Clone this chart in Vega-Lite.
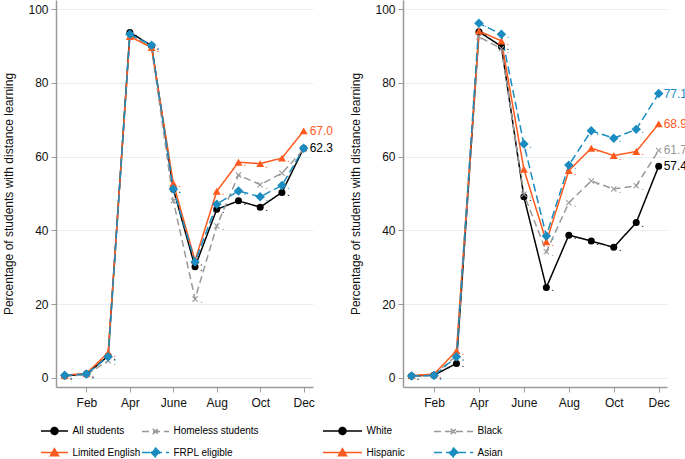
{
  "$schema": "https://vega.github.io/schema/vega-lite/v6.json",
  "padding": {"left": 2, "top": 0, "right": 0, "bottom": 0},
  "autosize": {"type": "pad"},
  "bounds": "flush",
  "spacing": 90,
  "config": {
    "font": "Liberation Sans",
    "view": {"stroke": null},
    "axis": {
      "domainColor": "#9a9a9a", "domainWidth": 1.5, "tickColor": "#9a9a9a", "tickWidth": 1, "tickSize": 5,
      "labelColor": "#111111", "labelFontSize": 12, "titleFontSize": 12, "titleFontWeight": "normal", "titleColor": "#111111",
      "gridColor": "#e6eff1", "gridWidth": 1, "labelFlush": false
    }
  },
  "datasets": {
    "left": [
      {"group": "All students", "month": 1, "pct": 0.5}, {"group": "All students", "month": 2, "pct": 1.0}, {"group": "All students", "month": 3, "pct": 5.9}, {"group": "All students", "month": 4, "pct": 93.7}, {"group": "All students", "month": 5, "pct": 90.1}, {"group": "All students", "month": 6, "pct": 51.2}, {"group": "All students", "month": 7, "pct": 30.1}, {"group": "All students", "month": 8, "pct": 45.7}, {"group": "All students", "month": 9, "pct": 48.0}, {"group": "All students", "month": 10, "pct": 46.3}, {"group": "All students", "month": 11, "pct": 50.3}, {"group": "All students", "month": 12, "pct": 62.3},
      {"group": "Homeless students", "month": 1, "pct": 0.5}, {"group": "Homeless students", "month": 2, "pct": 0.8}, {"group": "Homeless students", "month": 3, "pct": 4.6}, {"group": "Homeless students", "month": 4, "pct": 93.0}, {"group": "Homeless students", "month": 5, "pct": 89.5}, {"group": "Homeless students", "month": 6, "pct": 48.0}, {"group": "Homeless students", "month": 7, "pct": 21.4}, {"group": "Homeless students", "month": 8, "pct": 41.2}, {"group": "Homeless students", "month": 9, "pct": 55.0}, {"group": "Homeless students", "month": 10, "pct": 52.4}, {"group": "Homeless students", "month": 11, "pct": 55.5}, {"group": "Homeless students", "month": 12, "pct": 62.0},
      {"group": "Limited English", "month": 1, "pct": 0.7}, {"group": "Limited English", "month": 2, "pct": 1.2}, {"group": "Limited English", "month": 3, "pct": 6.8}, {"group": "Limited English", "month": 4, "pct": 92.6}, {"group": "Limited English", "month": 5, "pct": 89.6}, {"group": "Limited English", "month": 6, "pct": 52.8}, {"group": "Limited English", "month": 7, "pct": 31.8}, {"group": "Limited English", "month": 8, "pct": 50.6}, {"group": "Limited English", "month": 9, "pct": 58.5}, {"group": "Limited English", "month": 10, "pct": 58.1}, {"group": "Limited English", "month": 11, "pct": 59.6}, {"group": "Limited English", "month": 12, "pct": 67.0},
      {"group": "FRPL eligible", "month": 1, "pct": 0.7}, {"group": "FRPL eligible", "month": 2, "pct": 1.0}, {"group": "FRPL eligible", "month": 3, "pct": 5.7}, {"group": "FRPL eligible", "month": 4, "pct": 93.2}, {"group": "FRPL eligible", "month": 5, "pct": 90.2}, {"group": "FRPL eligible", "month": 6, "pct": 51.2}, {"group": "FRPL eligible", "month": 7, "pct": 31.4}, {"group": "FRPL eligible", "month": 8, "pct": 47.1}, {"group": "FRPL eligible", "month": 9, "pct": 50.7}, {"group": "FRPL eligible", "month": 10, "pct": 49.1}, {"group": "FRPL eligible", "month": 11, "pct": 52.2}, {"group": "FRPL eligible", "month": 12, "pct": 62.3}
    ],
    "right": [
      {"group": "White", "month": 1, "pct": 0.5}, {"group": "White", "month": 2, "pct": 0.7}, {"group": "White", "month": 3, "pct": 3.9}, {"group": "White", "month": 4, "pct": 93.9}, {"group": "White", "month": 5, "pct": 89.9}, {"group": "White", "month": 6, "pct": 49.1}, {"group": "White", "month": 7, "pct": 24.5}, {"group": "White", "month": 8, "pct": 38.7}, {"group": "White", "month": 9, "pct": 37.1}, {"group": "White", "month": 10, "pct": 35.4}, {"group": "White", "month": 11, "pct": 42.1}, {"group": "White", "month": 12, "pct": 57.4},
      {"group": "Black", "month": 1, "pct": 0.5}, {"group": "Black", "month": 2, "pct": 0.8}, {"group": "Black", "month": 3, "pct": 6.0}, {"group": "Black", "month": 4, "pct": 92.5}, {"group": "Black", "month": 5, "pct": 89.3}, {"group": "Black", "month": 6, "pct": 49.8}, {"group": "Black", "month": 7, "pct": 34.2}, {"group": "Black", "month": 8, "pct": 47.5}, {"group": "Black", "month": 9, "pct": 53.4}, {"group": "Black", "month": 10, "pct": 51.2}, {"group": "Black", "month": 11, "pct": 52.1}, {"group": "Black", "month": 12, "pct": 61.7},
      {"group": "Hispanic", "month": 1, "pct": 0.6}, {"group": "Hispanic", "month": 2, "pct": 1.0}, {"group": "Hispanic", "month": 3, "pct": 7.3}, {"group": "Hispanic", "month": 4, "pct": 94.1}, {"group": "Hispanic", "month": 5, "pct": 91.4}, {"group": "Hispanic", "month": 6, "pct": 56.6}, {"group": "Hispanic", "month": 7, "pct": 36.9}, {"group": "Hispanic", "month": 8, "pct": 56.2}, {"group": "Hispanic", "month": 9, "pct": 62.3}, {"group": "Hispanic", "month": 10, "pct": 60.3}, {"group": "Hispanic", "month": 11, "pct": 61.4}, {"group": "Hispanic", "month": 12, "pct": 68.9},
      {"group": "Asian", "month": 1, "pct": 0.5}, {"group": "Asian", "month": 2, "pct": 0.6}, {"group": "Asian", "month": 3, "pct": 5.7}, {"group": "Asian", "month": 4, "pct": 96.2}, {"group": "Asian", "month": 5, "pct": 93.2}, {"group": "Asian", "month": 6, "pct": 63.4}, {"group": "Asian", "month": 7, "pct": 38.5}, {"group": "Asian", "month": 8, "pct": 57.7}, {"group": "Asian", "month": 9, "pct": 67.0}, {"group": "Asian", "month": 10, "pct": 65.0}, {"group": "Asian", "month": 11, "pct": 67.4}, {"group": "Asian", "month": 12, "pct": 77.1}
    ]
  },
  "resolve": {
    "scale": {"color": "independent", "shape": "independent", "stroke": "independent", "strokeDash": "independent", "x": "independent", "y": "independent"},
    "legend": {"color": "independent"}
  },
  "hconcat": [
    {
      "width": 257, "height": 387,
      "data": {"name": "left"},
      "encoding": {
        "x": {"field": "month", "type": "quantitative", "scale": {"domain": [0.6, 12.43], "nice": false, "zero": false},
              "axis": {"values": [2, 4, 6, 8, 10, 12], "title": null, "grid": false, "labelPadding": 5,
                       "labelExpr": "['','Jan','Feb','Mar','Apr','May','June','Jul','Aug','Sep','Oct','Nov','Dec'][datum.value]"}},
        "y": {"field": "pct", "type": "quantitative", "scale": {"domain": [-2.5, 102.5], "nice": false, "zero": false},
              "axis": {"values": [0, 20, 40, 60, 80, 100], "title": "Percentage of students with distance learning", "grid": true, "labelPadding": 3, "titlePadding": 12}}
      },
      "layer": [
        {
          "mark": {"type": "point", "filled": true, "opacity": 0},
          "encoding": {
            "color": {"field": "group", "type": "nominal",
                      "scale": {"domain": ["All students", "Homeless students", "Limited English", "FRPL eligible"], "range": ["#000000", "#999999", "#ff5a1e", "#1a8cbf"]},
                      "legend": {"orient": "none", "legendX": -16, "legendY": 416, "columns": 2, "direction": "horizontal", "title": null,
                                 "symbolSize": 729, "rowPadding": -7.4, "columnPadding": -4, "labelOffset": 3.5, "padding": 0,
                                 "labelFont": "Liberation Sans", "labelFontSize": 10, "labelColor": "#000000", "symbolStrokeWidth": 1.5, "symbolOpacity": 1}},
            "stroke": {"field": "group", "type": "nominal", "legend": null,
                       "scale": {"domain": ["All students", "Homeless students", "Limited English", "FRPL eligible"], "range": ["#000000", "#999999", "#ff5a1e", "#1a8cbf"]}},
            "shape": {"field": "group", "type": "nominal", "legend": null,
                      "scale": {"domain": ["All students", "Homeless students", "Limited English", "FRPL eligible"],
                                "range": ["M-1,0H1M-0.26,0A0.26,0.26,0,1,1,0.26,0A0.26,0.26,0,1,1,-0.26,0Z", "M-1,0H1M-0.2,-0.2L0.2,0.2M-0.2,0.2L0.2,-0.2", "M-1,0H1M0,-0.28L0.3,0.24L-0.3,0.24Z", "M-1,0H1M0,-0.33L0.33,0L0,0.33L-0.33,0Z"]}},
            "strokeDash": {"field": "group", "type": "nominal", "legend": null}
          }
        },
        {
          "mark": {"type": "line", "strokeWidth": 1.5},
          "encoding": {
            "color": {"field": "group", "type": "nominal", "legend": null},
            "strokeDash": {"field": "group", "type": "nominal",
                           "scale": {"domain": ["All students", "Homeless students", "Limited English", "FRPL eligible"], "range": [[1, 0], [7, 4], [1, 0], [8, 4]]},
                           "legend": null}
          }
        },
        {"transform": [{"filter": {"field": "group", "equal": "All students"}}],
         "mark": {"type": "point", "filled": true, "opacity": 1, "strokeWidth": 0, "shape": "circle", "size": 49, "color": "#000000"}},
        {"transform": [{"filter": {"field": "group", "equal": "Homeless students"}}],
         "mark": {"type": "point", "filled": true, "opacity": 1, "strokeWidth": 0, "shape": "M-1,-0.75L-0.75,-1L0,-0.25L0.75,-1L1,-0.75L0.25,0L1,0.75L0.75,1L0,0.25L-0.75,1L-1,0.75L-0.25,0Z", "size": 36, "color": "#999999"}},
        {"transform": [{"filter": {"field": "group", "equal": "Limited English"}}],
         "mark": {"type": "point", "filled": true, "opacity": 1, "strokeWidth": 0, "shape": "triangle-up", "size": 64, "color": "#ff5a1e"}},
        {"transform": [{"filter": {"field": "group", "equal": "FRPL eligible"}}],
         "mark": {"type": "point", "filled": true, "opacity": 1, "strokeWidth": 0, "shape": "diamond", "size": 90, "color": "#1a8cbf"}},
        {
          "transform": [{"filter": "datum.month < 12"}],
          "mark": {"type": "text", "text": ".", "align": "left", "baseline": "middle", "dx": 5, "dy": 1, "fontSize": 10},
          "encoding": {"color": {"field": "group", "type": "nominal", "legend": null}}
        },
        {
          "transform": [{"filter": "datum.month == 12 && (datum.group == 'All students' || datum.group == 'Limited English')"}],
          "mark": {"type": "text", "align": "left", "baseline": "middle", "dx": 6, "fontSize": 12},
          "encoding": {
            "text": {"field": "pct", "type": "quantitative", "format": ".1f"},
            "color": {"field": "group", "type": "nominal", "legend": null}
          }
        }
      ]
    },
    {
      "width": 264, "height": 387,
      "data": {"name": "right"},
      "encoding": {
        "x": {"field": "month", "type": "quantitative", "scale": {"domain": [0.62, 12.37], "nice": false, "zero": false},
              "axis": {"values": [2, 4, 6, 8, 10, 12], "title": null, "grid": false, "labelPadding": 5,
                       "labelExpr": "['','Jan','Feb','Mar','Apr','May','June','Jul','Aug','Sep','Oct','Nov','Dec'][datum.value]"}},
        "y": {"field": "pct", "type": "quantitative", "scale": {"domain": [-2.5, 102.5], "nice": false, "zero": false},
              "axis": {"values": [0, 20, 40, 60, 80, 100], "title": "Percentage of students with distance learning", "grid": true, "labelPadding": 3, "titlePadding": 12}}
      },
      "layer": [
        {
          "mark": {"type": "point", "filled": true, "opacity": 0},
          "encoding": {
            "color": {"field": "group", "type": "nominal",
                      "scale": {"domain": ["White", "Black", "Hispanic", "Asian"], "range": ["#000000", "#999999", "#ff5a1e", "#1a8cbf"]},
                      "legend": {"orient": "none", "legendX": -75, "legendY": 416, "columns": 2, "direction": "horizontal", "title": null,
                                 "symbolSize": 729, "rowPadding": -7.4, "columnPadding": 25, "labelOffset": 9.5, "padding": 0,
                                 "labelFont": "Liberation Sans", "labelFontSize": 10, "labelColor": "#000000", "symbolStrokeWidth": 1.5, "symbolOpacity": 1}},
            "stroke": {"field": "group", "type": "nominal", "legend": null,
                       "scale": {"domain": ["White", "Black", "Hispanic", "Asian"], "range": ["#000000", "#999999", "#ff5a1e", "#1a8cbf"]}},
            "shape": {"field": "group", "type": "nominal", "legend": null,
                      "scale": {"domain": ["White", "Black", "Hispanic", "Asian"],
                                "range": ["M-1.45,0H1.45M-0.26,0A0.26,0.26,0,1,1,0.26,0A0.26,0.26,0,1,1,-0.26,0Z", "M-1.45,0H1.45M-0.2,-0.2L0.2,0.2M-0.2,0.2L0.2,-0.2", "M-1.45,0H1.45M0,-0.28L0.3,0.24L-0.3,0.24Z", "M-1.45,0H1.45M0,-0.33L0.33,0L0,0.33L-0.33,0Z"]}},
            "strokeDash": {"field": "group", "type": "nominal", "legend": null}
          }
        },
        {
          "mark": {"type": "line", "strokeWidth": 1.5},
          "encoding": {
            "color": {"field": "group", "type": "nominal", "legend": null},
            "strokeDash": {"field": "group", "type": "nominal",
                           "scale": {"domain": ["White", "Black", "Hispanic", "Asian"], "range": [[1, 0], [7, 4], [1, 0], [8, 4]]},
                           "legend": null}
          }
        },
        {"transform": [{"filter": {"field": "group", "equal": "White"}}],
         "mark": {"type": "point", "filled": true, "opacity": 1, "strokeWidth": 0, "shape": "circle", "size": 49, "color": "#000000"}},
        {"transform": [{"filter": {"field": "group", "equal": "Black"}}],
         "mark": {"type": "point", "filled": true, "opacity": 1, "strokeWidth": 0, "shape": "M-1,-0.75L-0.75,-1L0,-0.25L0.75,-1L1,-0.75L0.25,0L1,0.75L0.75,1L0,0.25L-0.75,1L-1,0.75L-0.25,0Z", "size": 36, "color": "#999999"}},
        {"transform": [{"filter": {"field": "group", "equal": "Hispanic"}}],
         "mark": {"type": "point", "filled": true, "opacity": 1, "strokeWidth": 0, "shape": "triangle-up", "size": 64, "color": "#ff5a1e"}},
        {"transform": [{"filter": {"field": "group", "equal": "Asian"}}],
         "mark": {"type": "point", "filled": true, "opacity": 1, "strokeWidth": 0, "shape": "diamond", "size": 90, "color": "#1a8cbf"}},
        {
          "transform": [{"filter": "datum.month < 12"}],
          "mark": {"type": "text", "text": ".", "align": "left", "baseline": "middle", "dx": 5, "dy": 1, "fontSize": 10},
          "encoding": {"color": {"field": "group", "type": "nominal", "legend": null}}
        },
        {
          "transform": [{"filter": "datum.month == 12"}],
          "mark": {"type": "text", "align": "left", "baseline": "middle", "dx": 5, "fontSize": 12},
          "encoding": {
            "text": {"field": "pct", "type": "quantitative", "format": ".1f"},
            "color": {"field": "group", "type": "nominal", "legend": null}
          }
        }
      ]
    }
  ]
}
